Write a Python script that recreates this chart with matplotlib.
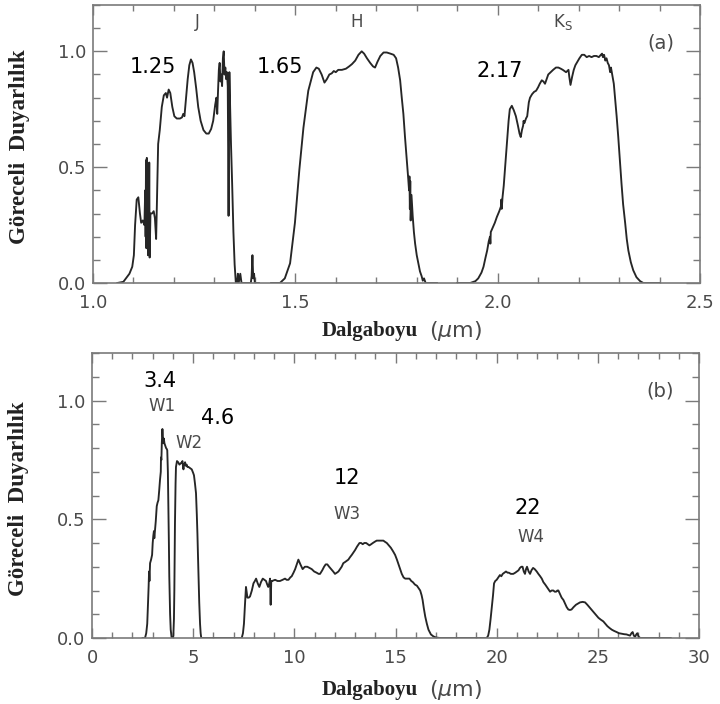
import numpy as np
import matplotlib
matplotlib.use("Agg")
import matplotlib.pyplot as plt
from matplotlib.ticker import MultipleLocator, FormatStrFormatter

# ---- 2MASS filter responses (panel a) ----
j_wl = [1.060, 1.075, 1.090, 1.097, 1.101, 1.104, 1.108, 1.112, 1.116, 1.119, 1.123, 1.127,
        1.129, 1.130, 1.131, 1.132, 1.133, 1.134, 1.135, 1.136, 1.137, 1.138, 1.139, 1.140,
        1.142, 1.146, 1.150, 1.153, 1.156, 1.158, 1.161, 1.165, 1.170, 1.175, 1.180, 1.183,
        1.187, 1.191, 1.196, 1.201, 1.207, 1.215, 1.220, 1.223, 1.226, 1.230, 1.234, 1.238,
        1.242, 1.246, 1.250, 1.255, 1.260, 1.266, 1.273, 1.280, 1.286, 1.292, 1.297, 1.302,
        1.305, 1.307, 1.309, 1.311, 1.313, 1.315, 1.317, 1.319, 1.321, 1.323, 1.325, 1.327,
        1.329, 1.331, 1.333, 1.335, 1.337, 1.339, 1.341, 1.344, 1.347, 1.350, 1.353, 1.356,
        1.358, 1.360, 1.364, 1.367, 1.375, 1.385, 1.390, 1.392, 1.394, 1.396, 1.398, 1.400,
        1.410]
j_resp = [0.0, 0.005, 0.04, 0.07, 0.12, 0.25, 0.36, 0.37, 0.30, 0.26, 0.27, 0.25,
          0.40, 0.20, 0.53, 0.15, 0.54, 0.25, 0.50, 0.12, 0.48, 0.22, 0.52, 0.11,
          0.30, 0.30, 0.31, 0.28, 0.19, 0.35, 0.60, 0.66, 0.76, 0.81, 0.82, 0.80,
          0.835, 0.82, 0.76, 0.72, 0.71, 0.71, 0.715, 0.73, 0.72, 0.80, 0.88, 0.94,
          0.965, 0.95, 0.91, 0.84, 0.76, 0.70, 0.66, 0.645, 0.645, 0.665, 0.70, 0.77,
          0.80, 0.73, 0.83, 0.92, 0.95, 0.87, 0.90, 0.85, 0.97, 1.00, 0.90, 0.93,
          0.88, 0.91, 0.85, 0.29, 0.91, 0.75, 0.60, 0.42, 0.22, 0.08, 0.0, 0.0,
          0.04, 0.0, 0.04, 0.0, 0.0, 0.0, 0.0, 0.03, 0.12, 0.02, 0.04, 0.0,
          0.0]

h_wl = [1.440, 1.462, 1.474, 1.487, 1.499, 1.510, 1.520, 1.532, 1.544, 1.552, 1.558, 1.565,
        1.572, 1.578, 1.584, 1.590, 1.595, 1.600, 1.606, 1.615, 1.625, 1.633, 1.640, 1.648,
        1.656, 1.664, 1.670, 1.677, 1.685, 1.692, 1.697, 1.703, 1.710, 1.718, 1.726, 1.735,
        1.743, 1.749, 1.754, 1.759, 1.763, 1.767, 1.771, 1.775, 1.779, 1.781, 1.782, 1.783,
        1.784, 1.785, 1.787, 1.790, 1.793, 1.796, 1.800, 1.804, 1.808, 1.812, 1.815, 1.818,
        1.822, 1.850]
h_resp = [0.0, 0.0, 0.02, 0.085, 0.26, 0.49, 0.67, 0.83, 0.91, 0.93, 0.925, 0.90,
          0.865, 0.88, 0.90, 0.905, 0.915, 0.91, 0.92, 0.92, 0.925, 0.935, 0.945, 0.96,
          0.985, 1.0, 0.99, 0.97, 0.95, 0.935, 0.93, 0.955, 0.98, 0.995, 0.995, 0.99,
          0.985, 0.97, 0.93, 0.875, 0.80, 0.73, 0.63, 0.54, 0.45, 0.40, 0.46, 0.32,
          0.44, 0.27, 0.38, 0.29, 0.22, 0.17, 0.12, 0.085, 0.05, 0.03, 0.01, 0.02,
          0.0, 0.0]

ks_wl = [1.900, 1.932, 1.945, 1.952, 1.960, 1.965, 1.970, 1.974, 1.978, 1.981, 1.982, 1.983,
         1.988, 1.993, 1.998, 2.004, 2.008, 2.009, 2.010, 2.012, 2.015, 2.018, 2.021, 2.024,
         2.027, 2.030, 2.035, 2.040, 2.045, 2.050, 2.054, 2.057, 2.060, 2.063, 2.064, 2.066,
         2.070, 2.073, 2.077, 2.080, 2.085, 2.090, 2.095, 2.100, 2.104, 2.109, 2.113, 2.117,
         2.121, 2.125, 2.131, 2.137, 2.144, 2.150, 2.156, 2.161, 2.165, 2.169, 2.172, 2.175,
         2.177, 2.180, 2.184, 2.188, 2.192, 2.197, 2.202, 2.208, 2.214, 2.220, 2.226, 2.232,
         2.238, 2.244, 2.250, 2.255, 2.258, 2.260, 2.263, 2.266, 2.269, 2.272, 2.275, 2.278,
         2.280, 2.283, 2.287, 2.290, 2.294, 2.298, 2.302, 2.306, 2.310, 2.315, 2.319, 2.323,
         2.329, 2.335, 2.343, 2.352, 2.360, 2.400]
ks_resp = [0.0, 0.0, 0.008, 0.02, 0.045, 0.07, 0.11, 0.14, 0.18, 0.20, 0.17, 0.22,
           0.24, 0.26, 0.285, 0.31, 0.33, 0.36, 0.32, 0.37, 0.42, 0.49, 0.56, 0.63,
           0.70, 0.75, 0.765, 0.745, 0.72, 0.68, 0.645, 0.63, 0.66, 0.68, 0.70, 0.69,
           0.71, 0.72, 0.78, 0.80, 0.815, 0.825, 0.83, 0.845, 0.86, 0.875, 0.87, 0.86,
           0.88, 0.90, 0.91, 0.92, 0.93, 0.93, 0.925, 0.92, 0.915, 0.91, 0.915, 0.92,
           0.89, 0.855, 0.89, 0.92, 0.94, 0.955, 0.97, 0.985, 0.985, 0.975, 0.98, 0.975,
           0.98, 0.98, 0.975, 0.985, 0.99, 0.975, 0.985, 0.96, 0.97, 0.95, 0.94, 0.91,
           0.93, 0.90, 0.86, 0.80, 0.72, 0.63, 0.53, 0.43, 0.34, 0.26, 0.19, 0.14,
           0.09, 0.055, 0.025, 0.008, 0.0, 0.0]

# ---- WISE filter responses (panel b) ----
w1_wl = [2.50, 2.62, 2.68, 2.73, 2.77, 2.80, 2.82, 2.84, 2.87, 2.92, 2.97, 3.00,
         3.03, 3.06, 3.08, 3.11, 3.15, 3.20, 3.24, 3.28, 3.32, 3.36, 3.40, 3.41,
         3.43, 3.45, 3.48, 3.50, 3.53, 3.55, 3.58, 3.62, 3.66, 3.70, 3.72, 3.75,
         3.77, 3.80, 3.82, 3.86, 3.89, 3.93, 3.96, 4.00]
w1_resp = [0.0, 0.0, 0.02, 0.06, 0.15, 0.22, 0.28, 0.24, 0.315, 0.33, 0.35, 0.40,
           0.43, 0.45, 0.42, 0.45, 0.49, 0.555, 0.57, 0.58, 0.62, 0.665, 0.70, 0.76,
           0.75, 0.82, 0.88, 0.85, 0.82, 0.84, 0.82, 0.81, 0.80, 0.795, 0.79, 0.70,
           0.58, 0.40, 0.26, 0.10, 0.035, 0.005, 0.0, 0.0]

w2_wl = [3.98, 4.02, 4.05, 4.07, 4.10, 4.13, 4.15, 4.20, 4.26, 4.32, 4.38, 4.44,
         4.47, 4.50, 4.52, 4.55, 4.60, 4.64, 4.68, 4.72, 4.77, 4.85, 4.93, 5.00,
         5.04, 5.09, 5.14, 5.18, 5.21, 5.24, 5.27, 5.30, 5.34, 5.37, 5.40, 5.50]
w2_resp = [0.0, 0.01, 0.08, 0.20, 0.48, 0.65, 0.72, 0.745, 0.74, 0.73, 0.735, 0.74,
           0.745, 0.72, 0.71, 0.73, 0.74, 0.725, 0.73, 0.72, 0.72, 0.715, 0.71, 0.695,
           0.685, 0.65, 0.61, 0.52, 0.44, 0.34, 0.245, 0.15, 0.06, 0.02, 0.0, 0.0]

w3_wl = [5.50, 7.40, 7.46, 7.51, 7.56, 7.61, 7.65, 7.68, 7.75, 7.81, 7.90, 7.98,
         8.05, 8.11, 8.19, 8.27, 8.35, 8.44, 8.52, 8.60, 8.66, 8.71, 8.76, 8.80,
         8.83, 8.86, 8.90, 9.05, 9.17, 9.29, 9.42, 9.54, 9.62, 9.71, 9.80, 9.87,
         9.96, 10.04, 10.12, 10.20, 10.30, 10.41, 10.52, 10.64, 10.75, 10.86, 10.98, 11.10,
         11.20, 11.27, 11.38, 11.47, 11.55, 11.63, 11.72, 11.82, 11.92, 12.01, 12.10, 12.18,
         12.26, 12.34, 12.42, 12.51, 12.59, 12.67, 12.75, 12.84, 12.92, 13.00, 13.10, 13.22,
         13.30, 13.38, 13.46, 13.55, 13.63, 13.71, 13.80, 13.88, 13.97, 14.07, 14.20, 14.30,
         14.40, 14.48, 14.57, 14.67, 14.77, 14.88, 14.98, 15.07, 15.15, 15.23, 15.31, 15.40,
         15.48, 15.58, 15.69, 15.78, 15.86, 15.96, 16.06, 16.14, 16.22, 16.29, 16.34, 16.40,
         16.47, 16.55, 16.63, 16.75, 16.87, 17.00, 17.20, 19.20]
w3_resp = [0.0, 0.0, 0.02, 0.06, 0.14, 0.215, 0.19, 0.17, 0.17, 0.175, 0.20, 0.23,
           0.24, 0.25, 0.23, 0.215, 0.235, 0.25, 0.245, 0.24, 0.225, 0.215, 0.23, 0.25,
           0.14, 0.24, 0.24, 0.245, 0.24, 0.24, 0.245, 0.25, 0.245, 0.245, 0.255, 0.26,
           0.275, 0.29, 0.31, 0.33, 0.31, 0.29, 0.30, 0.30, 0.295, 0.29, 0.28, 0.275,
           0.27, 0.27, 0.285, 0.30, 0.31, 0.31, 0.30, 0.29, 0.28, 0.27, 0.275, 0.28,
           0.29, 0.30, 0.315, 0.32, 0.325, 0.33, 0.34, 0.35, 0.36, 0.37, 0.385, 0.40,
           0.40, 0.395, 0.40, 0.40, 0.395, 0.39, 0.395, 0.40, 0.405, 0.41, 0.41, 0.41,
           0.41, 0.405, 0.40, 0.39, 0.38, 0.365, 0.35, 0.33, 0.31, 0.29, 0.27, 0.255,
           0.25, 0.25, 0.25, 0.24, 0.235, 0.225, 0.22, 0.21, 0.20, 0.18, 0.16, 0.125,
           0.09, 0.06, 0.035, 0.015, 0.007, 0.002, 0.0, 0.0]

w4_wl = [19.20, 19.51, 19.58, 19.64, 19.70, 19.76, 19.82, 19.87, 19.93, 20.00, 20.08, 20.16,
         20.23, 20.30, 20.38, 20.46, 20.54, 20.60, 20.70, 20.82, 20.92, 21.00, 21.08, 21.15,
         21.22, 21.28, 21.34, 21.40, 21.45, 21.50, 21.58, 21.65, 21.72, 21.80, 21.88, 21.98,
         22.06, 22.15, 22.23, 22.31, 22.40, 22.48, 22.56, 22.64, 22.72, 22.80, 22.87, 22.94,
         23.00, 23.05, 23.13, 23.21, 23.30, 23.38, 23.46, 23.54, 23.62, 23.70, 23.80, 23.92,
         24.02, 24.12, 24.25, 24.37, 24.48, 24.58, 24.68, 24.78, 24.90, 25.03, 25.15, 25.27,
         25.37, 25.47, 25.58, 25.69, 25.80, 25.93, 26.05, 26.18, 26.30, 26.42, 26.52, 26.59,
         26.66, 26.72, 26.78, 26.84, 26.90, 26.95, 27.02, 27.10, 27.30, 28.60]
w4_resp = [0.0, 0.0, 0.01, 0.035, 0.08, 0.13, 0.18, 0.23, 0.24, 0.245, 0.255, 0.265,
           0.26, 0.27, 0.275, 0.28, 0.275, 0.275, 0.27, 0.27, 0.275, 0.28, 0.285, 0.295,
           0.30, 0.30, 0.28, 0.27, 0.29, 0.30, 0.28, 0.27, 0.285, 0.295, 0.29, 0.28,
           0.27, 0.26, 0.25, 0.235, 0.225, 0.215, 0.205, 0.195, 0.20, 0.20, 0.195, 0.195,
           0.20, 0.20, 0.185, 0.17, 0.16, 0.145, 0.13, 0.12, 0.118, 0.12, 0.13, 0.14,
           0.145, 0.15, 0.152, 0.15, 0.14, 0.13, 0.12, 0.11, 0.098, 0.085, 0.077, 0.07,
           0.06, 0.05, 0.042, 0.035, 0.03, 0.025, 0.02, 0.018, 0.016, 0.015, 0.012, 0.01,
           0.02, 0.025, 0.01, 0.005, 0.015, 0.02, 0.005, 0.0, 0.0, 0.0]

# band names and effective wavelengths
band_names_a = ["J", "H", "K$_{\\rm S}$"]
band_pos_a = [1.259, 1.652, 2.161]
center_labels_a = ["1.25", "1.65", "2.17"]
center_pos_a = [(1.148, 0.931), (1.462, 0.931), (2.006, 0.914)]

band_names_b = ["W1", "W2", "W3", "W4"]
band_pos_b = [(3.46, 0.975), (4.79, 0.823), (12.6, 0.523), (21.7, 0.426)]
center_labels_b = ["3.4", "4.6", "12", "22"]
center_pos_b = [(3.36, 1.084), (6.23, 0.928), (12.6, 0.675), (21.55, 0.549)]

LINE = "#262626"
AXC = "#7a7a7a"
TXT = "#4a4a4a"
SERIF = ["Liberation Serif", "DejaVu Serif"]

fig = plt.figure(figsize=(7.2, 7.04), dpi=100)
ax_a = fig.add_axes([93 / 720, 1 - 283 / 704, 607 / 720, 278 / 704])
ax_b = fig.add_axes([92 / 720, 1 - 638 / 704, 607 / 720, 285 / 704])


def style(ax, xmajor, xminor):
    for s in ax.spines.values():
        s.set_color(AXC)
        s.set_linewidth(1.2)
    ax.xaxis.set_major_locator(MultipleLocator(xmajor))
    ax.xaxis.set_minor_locator(MultipleLocator(xminor))
    ax.yaxis.set_major_locator(MultipleLocator(0.5))
    ax.yaxis.set_minor_locator(MultipleLocator(0.1))
    ax.yaxis.set_major_formatter(FormatStrFormatter("%.1f"))
    ax.tick_params(axis="both", which="both", direction="in", top=True, right=True,
                   color=AXC, width=1.0, labelcolor=TXT, labelsize=13)
    ax.tick_params(axis="x", which="major", length=7, pad=8)
    ax.tick_params(axis="x", which="minor", length=4)
    ax.tick_params(axis="y", which="major", length=10, pad=5)
    ax.tick_params(axis="y", which="minor", length=5)
    ax.set_ylim(0, 1.2)
    ax.set_ylabel("Göreceli  Duyarlılık", family=SERIF, fontweight="bold",
                  fontsize=16.5, color="#222222")
    ax.yaxis.set_label_coords(-0.103, 0.49)


# panel (a)
for wl, rr in [(j_wl, j_resp), (h_wl, h_resp), (ks_wl, ks_resp)]:
    ax_a.plot(wl, rr, color=LINE, lw=1.35, solid_joinstyle="round")
ax_a.set_xlim(1.0, 2.5)
style(ax_a, 0.5, 0.1)
ax_a.xaxis.set_major_formatter(FormatStrFormatter("%.1f"))
for name, x in zip(band_names_a, band_pos_a):
    ax_a.text(x, 1.125, name, ha="center", va="center", fontsize=12, color=TXT)
for lab, (x, y) in zip(center_labels_a, center_pos_a):
    ax_a.text(x, y, lab, ha="center", va="center", fontsize=15, color="black")
ax_a.text(2.404, 1.034, "(a)", ha="center", va="center", fontsize=14, color=TXT)

# panel (b)
for wl, rr in [(w1_wl, w1_resp), (w2_wl, w2_resp), (w3_wl, w3_resp), (w4_wl, w4_resp)]:
    ax_b.plot(wl, rr, color=LINE, lw=1.35, solid_joinstyle="round")
ax_b.set_xlim(0, 30)
style(ax_b, 5, 1)
for name, (x, y) in zip(band_names_b, band_pos_b):
    ax_b.text(x, y, name, ha="center", va="center", fontsize=12, color=TXT)
for lab, (x, y) in zip(center_labels_b, center_pos_b):
    ax_b.text(x, y, lab, ha="center", va="center", fontsize=15, color="black")
ax_b.text(28.08, 1.042, "(b)", ha="center", va="center", fontsize=14, color=TXT)

# x-axis titles: serif word plus unit in sans
for yc in (1 - 331 / 704, 1 - 690 / 704):
    fig.text(370 / 720, yc, "Dalgaboyu", ha="center", va="center", family=SERIF,
             fontweight="bold", fontsize=15, color="#222222")
    fig.text(456 / 720, yc, "($\\mu$m)", ha="center", va="center", fontsize=16,
             color=TXT)

fig.savefig("out.png", dpi=100)
